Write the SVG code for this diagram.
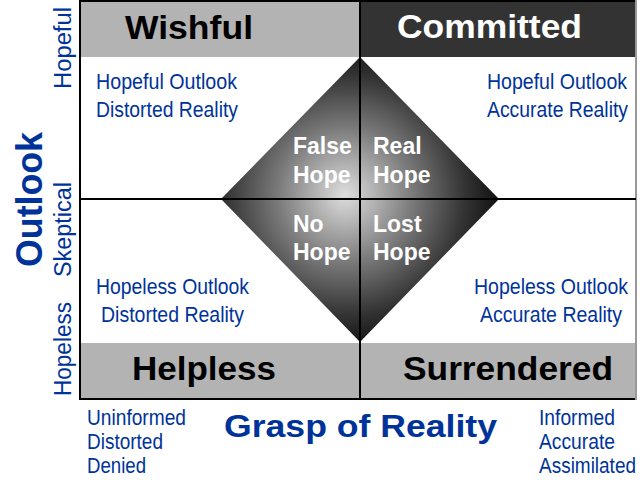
<svg xmlns="http://www.w3.org/2000/svg" width="640" height="480" viewBox="0 0 640 480">
<defs>
<radialGradient id="dg" gradientUnits="userSpaceOnUse" cx="345" cy="195" r="150">
<stop offset="0" stop-color="#dedede"/>
<stop offset="0.45" stop-color="#7a7a7a"/>
<stop offset="0.8" stop-color="#333"/>
<stop offset="1" stop-color="#151515"/>
</radialGradient>
<style>
.hdr{font-family:"Liberation Sans",Arial,sans-serif;font-weight:bold;font-size:34px}
.blue{font-family:"Liberation Sans",Arial,sans-serif;font-size:22px;fill:#003399}
.end{text-anchor:end}
.side{font-family:"Liberation Sans",Arial,sans-serif;font-size:23px;fill:#003399}
.axis{font-family:"Liberation Sans",Arial,sans-serif;font-weight:bold;fill:#003399}
.dl{font-family:"Liberation Sans",Arial,sans-serif;font-weight:bold;font-size:23px;fill:#ffffff}
.ln{stroke:#000;stroke-width:2;fill:none}
</style>
</defs>
<rect x="0" y="0" width="640" height="480" fill="#ffffff"/>

<g id="wishful">
<rect x="80" y="0" width="280" height="57" fill="#b3b3b3"/>
<text class="hdr" x="125" y="39" textLength="128" lengthAdjust="spacingAndGlyphs" fill="#000">Wishful</text>
</g>
<g id="committed">
<rect x="360" y="0" width="276" height="57" fill="#333333"/>
<text class="hdr" x="397" y="38" textLength="185" lengthAdjust="spacingAndGlyphs" fill="#fff">Committed</text>
</g>
<g id="helpless">
<rect x="80" y="343" width="280" height="56" fill="#b3b3b3"/>
<text class="hdr" x="132" y="380" textLength="144" lengthAdjust="spacingAndGlyphs" fill="#000">Helpless</text>
</g>
<g id="surrendered">
<rect x="360" y="343" width="276" height="56" fill="#b3b3b3"/>
<text class="hdr" x="403" y="380" textLength="210" lengthAdjust="spacingAndGlyphs" fill="#000">Surrendered</text>
</g>

<g id="diamond">
<polygon points="360,57 499,199 360,342 221,199" fill="url(#dg)"/>
</g>

<g id="connectors">
<line class="ln" x1="80" y1="0" x2="80" y2="400"/>
<line class="ln" x1="79" y1="399" x2="637" y2="399"/>
<line class="ln" x1="80" y1="1" x2="636" y2="1"/>
<line x1="636" y1="0" x2="636" y2="400" stroke="#999" stroke-width="2"/>
<line class="ln" x1="360" y1="0" x2="360" y2="399"/>
<line class="ln" x1="80" y1="199" x2="636" y2="199"/>
</g>

<g id="diamond-labels">
<text class="dl" x="293" y="154">False</text>
<text class="dl" x="293" y="183">Hope</text>
<text class="dl" x="373" y="154">Real</text>
<text class="dl" x="373" y="183">Hope</text>
<text class="dl" x="293" y="232">No</text>
<text class="dl" x="293" y="260">Hope</text>
<text class="dl" x="373" y="232">Lost</text>
<text class="dl" x="373" y="260">Hope</text>
</g>

<g id="quadrant-wishful">
<text class="blue" x="96" y="89" textLength="141" lengthAdjust="spacingAndGlyphs">Hopeful Outlook</text>
<text class="blue" x="96" y="117" textLength="142" lengthAdjust="spacingAndGlyphs">Distorted Reality</text>
</g>
<g id="quadrant-committed">
<text class="blue end" x="627" y="89" textLength="140" lengthAdjust="spacingAndGlyphs">Hopeful Outlook</text>
<text class="blue end" x="628" y="117" textLength="141" lengthAdjust="spacingAndGlyphs">Accurate Reality</text>
</g>
<g id="quadrant-helpless">
<text class="blue" x="96" y="294" textLength="153" lengthAdjust="spacingAndGlyphs">Hopeless Outlook</text>
<text class="blue" x="101" y="322" textLength="143" lengthAdjust="spacingAndGlyphs">Distorted Reality</text>
</g>
<g id="quadrant-surrendered">
<text class="blue end" x="628" y="294" textLength="154" lengthAdjust="spacingAndGlyphs">Hopeless Outlook</text>
<text class="blue end" x="622" y="322" textLength="142" lengthAdjust="spacingAndGlyphs">Accurate Reality</text>
</g>

<g id="reality-low">
<text class="blue" x="87" y="425" textLength="99" lengthAdjust="spacingAndGlyphs">Uninformed</text>
<text class="blue" x="87" y="449" textLength="76" lengthAdjust="spacingAndGlyphs">Distorted</text>
<text class="blue" x="87" y="473" textLength="59" lengthAdjust="spacingAndGlyphs">Denied</text>
</g>
<g id="reality-high">
<text class="blue end" x="615" y="425" textLength="76" lengthAdjust="spacingAndGlyphs">Informed</text>
<text class="blue end" x="615" y="449" textLength="76" lengthAdjust="spacingAndGlyphs">Accurate</text>
<text class="blue end" x="636" y="473" textLength="97" lengthAdjust="spacingAndGlyphs">Assimilated</text>
</g>

<g id="axis-x">
<text class="axis" x="224" y="437" font-size="31" textLength="273" lengthAdjust="spacingAndGlyphs">Grasp of Reality</text>
</g>
<g id="axis-y">
<text class="axis" transform="translate(42,267) rotate(-90)" font-size="37" textLength="135" lengthAdjust="spacingAndGlyphs">Outlook</text>
<text class="side" transform="translate(71,89) rotate(-90)" textLength="82" lengthAdjust="spacingAndGlyphs">Hopeful</text>
<text class="side" transform="translate(71,277) rotate(-90)" textLength="95" lengthAdjust="spacingAndGlyphs">Skeptical</text>
<text class="side" transform="translate(71,396) rotate(-90)" textLength="94" lengthAdjust="spacingAndGlyphs">Hopeless</text>
</g>
</svg>
